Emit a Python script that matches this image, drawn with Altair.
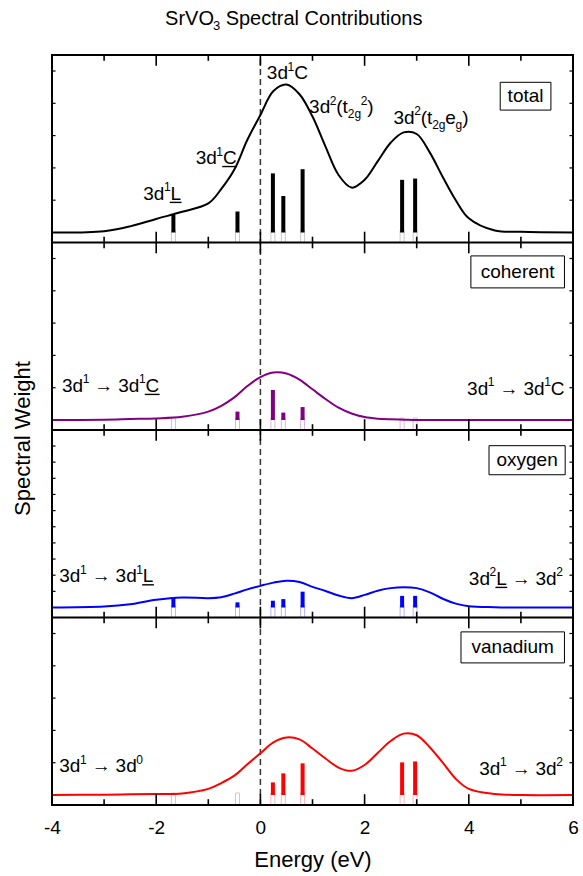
import altair as alt
import pandas as pd

# ---------------- values ----------------
energy = [-4.0, -3.0, -2.5, -2.0, -1.5, -1.0, -0.75, -0.5, -0.25, 0.0, 0.25, 0.5, 0.75,
          1.0, 1.25, 1.5, 1.75, 2.0, 2.25, 2.5, 2.75, 3.0, 3.25, 3.5, 3.75, 4.0, 4.5, 5.0, 6.0]
total = [0.0, 0.04, 0.19, 0.42, 0.64, 0.9, 1.35, 1.95, 2.87, 3.64, 4.38, 4.58, 4.28,
         3.59, 2.66, 1.78, 1.39, 1.63, 2.2, 2.78, 3.1, 3.05, 2.48, 1.72, 1.0, 0.44, 0.06, 0.02, 0.0]
coherent = [0.0, 0.01, 0.03, 0.05, 0.1, 0.26, 0.44, 0.7, 1.05, 1.33, 1.47, 1.44, 1.25,
            0.95, 0.65, 0.38, 0.2, 0.09, 0.04, 0.02, 0.01, 0.0, 0.0, 0.0, 0.0, 0.0, 0.0, 0.0, 0.0]
oxygen = [0.0, 0.03, 0.1, 0.24, 0.31, 0.29, 0.32, 0.43, 0.56, 0.67, 0.77, 0.83, 0.79,
          0.64, 0.51, 0.37, 0.29, 0.39, 0.52, 0.6, 0.63, 0.6, 0.47, 0.27, 0.12, 0.04, 0.01, 0.0, 0.0]
vanadium = [0.0, 0.01, 0.02, 0.03, 0.05, 0.19, 0.37, 0.6, 0.95, 1.29, 1.63, 1.78, 1.72,
            1.44, 1.13, 0.85, 0.75, 0.93, 1.3, 1.67, 1.9, 1.85, 1.48, 1.0, 0.5, 0.19, 0.03, 0.0, 0.0]

stick_energy = [-1.67, -0.44, 0.24, 0.44, 0.81, 2.72, 2.97]
stick_total = [0.55, 0.65, 1.83, 1.13, 1.96, 1.63, 1.67]
stick_coherent = [0.0, 0.26, 0.93, 0.23, 0.40, 0.0, 0.0]
stick_oxygen = [0.31, 0.16, 0.21, 0.26, 0.49, 0.36, 0.36]
stick_vanadium = [0.0, 0.0, 0.39, 0.67, 0.98, 1.01, 1.04]

panel_names = ["total", "coherent", "oxygen", "vanadium"]
panel_curves = [total, coherent, oxygen, vanadium]
panel_sticks = [stick_total, stick_coherent, stick_oxygen, stick_vanadium]
panel_colors = ["#000000", "#800080", "#0000ff", "#ff0000"]
panel_light = ["#c8c8c8", "#dcb4dc", "#b4b4ff", "#ffb4b4"]
panel_ytick_step = [1.0, 1.0, 0.5, 1.0]
x_tick_labels = [-4, -2, 0, 2, 4, 6]

# ---------------- layout ----------------
PLOT_W, PLOT_H = 531, 750
PAD = {"left": 47, "top": 55, "right": 5, "bottom": 71}
NP = 4
PANEL_PX = PLOT_H / NP
UNIT_PX = 32.3                      # pixels per unit of spectral weight
PANEL_U = PANEL_PX / UNIT_PX
LOW_U = 10 / UNIT_PX
XMIN, XMAX = -4, 6
EV_PX = PLOT_W / (XMAX - XMIN)
YMAX = NP * PANEL_U


def bottom(k):
    return (NP - 1 - k) * PANEL_U


def base(k):
    return bottom(k) + LOW_U


# ---------------- tables ----------------
curve_rows, dark_rows, light_rows = [], [], []
for k, name in enumerate(panel_names):
    for e, v in zip(energy, panel_curves[k]):
        curve_rows.append({"x": e, "y": base(k) + v, "panel": name})
    for e, v in zip(stick_energy, panel_sticks[k]):
        light_rows.append({"x": e, "y": bottom(k), "y2": base(k) + 2 / UNIT_PX, "panel": name})
        if v > 0:
            dark_rows.append({"x": e, "y": base(k), "y2": base(k) + v, "panel": name})

rule_rows = []
# panel frames
for b in range(NP + 1):
    rule_rows.append({"x": XMIN, "x2": XMAX, "y": b * PANEL_U, "y2": b * PANEL_U, "sw": 2.0})
for xv in (XMIN, XMAX):
    rule_rows.append({"x": xv, "x2": xv, "y": 0, "y2": YMAX, "sw": 2.0})
# inward x ticks on every panel edge
for b in range(NP + 1):
    yb = b * PANEL_U
    for e in range(-3, 6):
        L = (10 if e % 2 == 0 else 5) / UNIT_PX
        lo = yb - (L if b > 0 else 0)
        hi = yb + (L if b < NP else 0)
        rule_rows.append({"x": e, "x2": e, "y": lo, "y2": hi, "sw": 1.6})
# inward y ticks, left and right
TK = 3 / EV_PX
for k in range(NP):
    step = panel_ytick_step[k]
    n = int(round(5 / step))
    for i in range(1, n + 1):
        yv = base(k) + i * step
        rule_rows.append({"x": XMIN, "x2": XMIN + TK, "y": yv, "y2": yv, "sw": 1.2})
        rule_rows.append({"x": XMAX - TK, "x2": XMAX, "y": yv, "y2": yv, "sw": 1.2})

# ---------------- annotation text ----------------
CW = {"3": .556, "d": .556, "1": .556, "2": .556, "0": .556, "C": .722, "L": .556,
      "(": .333, ")": .333, "t": .278, "g": .556, "e": .556, " ": .278, "\u2192": 1.0,
      "S": .667, "r": .333, "V": .667, "O": .778, "p": .556, "c": .5, "a": .556,
      "l": .222, "o": .556, "n": .556, "i": .222, "b": .556, "u": .556, "s": .5}


def tw(s, fs):
    return sum(CW[c] for c in s) * fs


FS, FS_S = 19, 12
SUP_PX, SUB_PX = 8.5, 5.0
text_rows = []


def add_label(k, e, v, align, segs):
    widths = []
    for s, kind in segs:
        if kind == "sp":
            widths.append(CW[" "] * FS)
        elif kind in ("sup", "sub"):
            widths.append(tw(s, FS_S))
        else:
            widths.append(tw(s, FS))
    tot = sum(widths)
    x0 = e if align == "left" else e - tot / EV_PX
    yb = base(k) + v - 0.358 * FS / UNIT_PX
    off = 0.0
    for (s, kind), w in zip(segs, widths):
        if kind != "sp":
            dy = SUP_PX if kind == "sup" else (-SUB_PX if kind == "sub" else 0.0)
            text_rows.append({"x": x0 + off / EV_PX, "y": yb + dy / UNIT_PX, "t": s,
                              "size": FS_S if kind in ("sup", "sub") else FS})
            if kind == "u":
                yu = yb - 2.5 / UNIT_PX
                rule_rows.append({"x": x0 + off / EV_PX, "x2": x0 + (off + w) / EV_PX,
                                  "y": yu, "y2": yu, "sw": 1.4})
        off += w


ARROW = [("sp", "sp"), ("\u2192", "n"), ("sp", "sp")]
labels = [
    (0, 0.124, 4.95, "left", [("3d", "n"), ("1", "sup"), ("C", "n")]),
    (0, 0.934, 3.91, "left", [("3d", "n"), ("2", "sup"), ("(", "n"), ("t", "n"), ("2g", "sub"),
                             ("2", "sup"), (")", "n")]),
    (0, 2.554, 3.57, "left", [("3d", "n"), ("2", "sup"), ("(", "n"), ("t", "n"), ("2g", "sub"),
                             ("e", "n"), ("g", "sub"), (")", "n")]),
    (0, -1.243, 2.33, "left", [("3d", "n"), ("1", "sup"), ("C", "u")]),
    (0, -2.25, 1.22, "left", [("3d", "n"), ("1", "sup"), ("L", "u")]),
    (1, -3.81, 1.08, "left", [("3d", "n"), ("1", "sup")] + ARROW + [("3d", "n"), ("1", "sup"), ("C", "u")]),
    (1, 5.83, 0.99, "right", [("3d", "n"), ("1", "sup")] + ARROW + [("3d", "n"), ("1", "sup"), ("C", "n")]),
    (2, -3.86, 0.99, "left", [("3d", "n"), ("1", "sup")] + ARROW + [("3d", "n"), ("1", "sup"), ("L", "u")]),
    (2, 5.804, 0.91, "right", [("3d", "n"), ("2", "sup"), ("L", "u")] + ARROW + [("3d", "n"), ("2", "sup")]),
    (3, -3.86, 0.91, "left", [("3d", "n"), ("1", "sup")] + ARROW + [("3d", "n"), ("0", "sup")]),
    (3, 5.804, 0.83, "right", [("3d", "n"), ("1", "sup")] + ARROW + [("3d", "n"), ("2", "sup")]),
]
for lab in labels:
    add_label(*lab)

# title "SrVO3 Spectral Contributions" (subscript 3), placed above the plot
T_FS, T_FS_S = 20, 13
title_segs = [("SrVO", T_FS, 0), ("3", T_FS_S, -5), (" ", T_FS, 0), ("Spectral Contributions", T_FS, 0)]
t_tot = sum(tw(s, f) for s, f, _ in title_segs)
t_x0 = 291.5 - t_tot / 2 - PAD["left"]          # pixels from plot left
t_base = 25 - PAD["top"]                          # pixels from plot top
off = 0.0
for s, f, dy in title_segs:
    if s.strip():
        text_rows.append({"x": XMIN + (t_x0 + off) / EV_PX,
                          "y": YMAX - (t_base - dy) / UNIT_PX, "t": s, "size": f})
    off += tw(s, f)

# boxed panel names: (panel, e_left, e_right, v_top, v_bottom)
box_pos = [(0, 4.603, 5.576, 4.65, 3.79), (1, 4.04, 5.836, 5.08, 4.09),
           (2, 4.388, 5.85, 5.01, 4.11), (3, 3.85, 5.836, 5.05, 4.09)]
box_rows = []
for k, el, er, vt, vb in box_pos:
    box_rows.append({"x": el, "x2": er, "y": base(k) + vb, "y2": base(k) + vt,
                     "xc": (el + er) / 2, "yc": base(k) + (vt + vb) / 2, "t": panel_names[k]})

# ---------------- chart ----------------
XS = alt.Scale(domain=[XMIN, XMAX], nice=False, zero=False)
YS = alt.Scale(domain=[0, YMAX], nice=False, zero=False)
XAX = alt.Axis(values=x_tick_labels, labelExpr="'' + datum.value", ticks=False, domain=False,
               grid=False, labelFontSize=19, labelPadding=13, labelFont="Liberation Sans",
               labelColor="black", labelFlush=False, title="Energy (eV)", titleFontSize=22,
               titleFont="Liberation Sans", titleFontWeight="normal", titleColor="black",
               titleY=61, titleBaseline="alphabetic")
YAX = alt.Axis(ticks=False, labels=False, domain=False, grid=False, title="Spectral Weight",
               titleFontSize=22, titleFont="Liberation Sans", titleFontWeight="normal",
               titleColor="black", titleX=-25, titleY=383, titleAngle=270,
               titleBaseline="middle", titleAlign="center")
X = alt.X("x:Q", scale=XS, axis=XAX)
Y = alt.Y("y:Q", scale=YS, axis=YAX)
CS = alt.Scale(domain=panel_names, range=panel_colors)
LS = alt.Scale(domain=panel_names, range=panel_light)

light = alt.Chart(pd.DataFrame(light_rows)).mark_bar(width=4, fill="white", strokeWidth=1).encode(
    X, Y, alt.Y2("y2:Q"), stroke=alt.Stroke("panel:N", scale=LS, legend=None))
dark = alt.Chart(pd.DataFrame(dark_rows)).mark_rule(strokeWidth=4, strokeCap="butt").encode(
    X, Y, alt.Y2("y2:Q"), color=alt.Color("panel:N", scale=CS, legend=None))
curves = alt.Chart(pd.DataFrame(curve_rows)).mark_line(interpolate="catmull-rom", strokeWidth=2).encode(
    X, Y, color=alt.Color("panel:N", scale=CS, legend=None))
zero = alt.Chart(pd.DataFrame([{"x": 0, "y": 0, "y2": YMAX}])).mark_rule(
    color="#333333", strokeWidth=1.5, strokeDash=[6, 4]).encode(X, Y, alt.Y2("y2:Q"))
rules = alt.Chart(pd.DataFrame(rule_rows)).mark_rule(color="black", strokeCap="square").encode(
    X, Y, alt.X2("x2:Q"), alt.Y2("y2:Q"), strokeWidth=alt.StrokeWidth("sw:Q", scale=None))
texts = alt.Chart(pd.DataFrame(text_rows)).mark_text(
    align="left", baseline="alphabetic", font="Liberation Sans", color="black").encode(
    X, Y, text="t:N", size=alt.Size("size:Q", scale=None))
boxes = alt.Chart(pd.DataFrame(box_rows)).mark_rect(fill="white", stroke="black", strokeWidth=1).encode(
    X, Y, alt.X2("x2:Q"), alt.Y2("y2:Q"))
box_text = alt.Chart(pd.DataFrame(box_rows)).mark_text(
    align="center", baseline="middle", font="Liberation Sans", fontSize=19, color="black").encode(
    alt.X("xc:Q", scale=XS, axis=XAX), alt.Y("yc:Q", scale=YS, axis=YAX), text="t:N")

chart = alt.layer(light, dark, zero, curves, rules, texts, boxes, box_text).properties(
    width=PLOT_W, height=PLOT_H,
    autosize=alt.AutoSizeParams(type="none"),
    padding=PAD,
    background="white",
).configure_view(stroke="transparent")

chart.save("out.html", embed_options={"renderer": "svg", "actions": False})
